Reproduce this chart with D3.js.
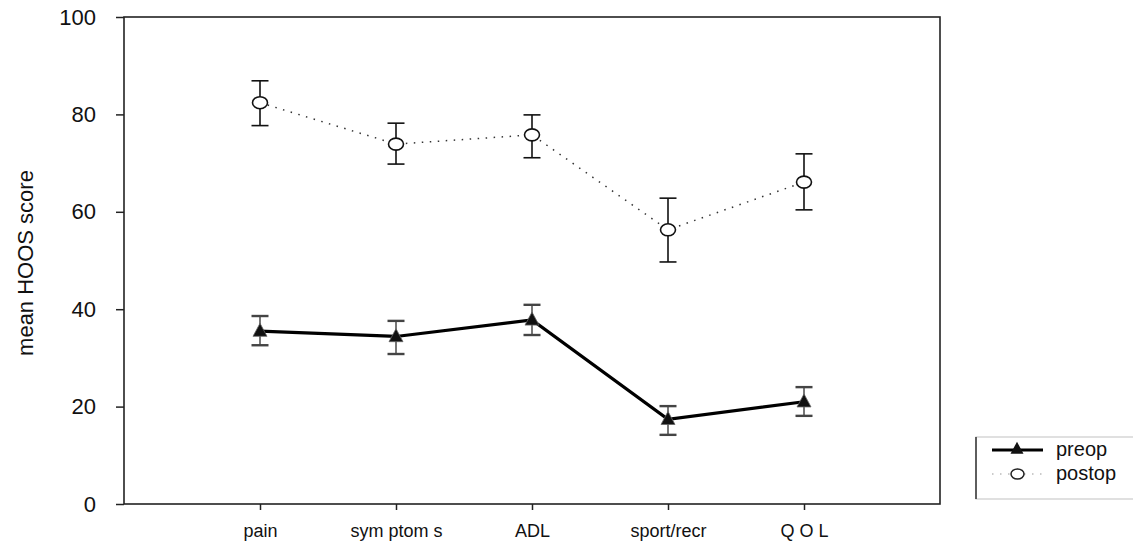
<!DOCTYPE html>
<html>
<head>
<meta charset="utf-8">
<script src="https://cdn.jsdelivr.net/npm/d3@7"></script>
<style>
  html, body { margin: 0; padding: 0; background: #fff; }
  svg { display: block; font-family: "Liberation Sans", Arial, sans-serif; }
</style>
</head>
<body>
<svg id="chart" width="1133" height="541"></svg>
<script>
// ---- data ----
const categories = ["pain", "sym ptom s", "ADL", "sport/recr", "Q O L"];
const preopMean  = [35.5, 34.4, 37.8, 17.4, 21.0];
const preopLow   = [32.6, 30.8, 34.7, 14.2, 18.1];
const preopHigh  = [38.6, 37.6, 40.9, 20.1, 24.0];
const postopMean = [82.4, 73.9, 75.8, 56.3, 66.1];
const postopLow  = [77.7, 69.8, 71.1, 49.7, 60.4];
const postopHigh = [86.9, 78.2, 79.9, 62.8, 71.9];
const yTicks = [0, 20, 40, 60, 80, 100];
const yTitle = "mean HOOS score";
const seriesNames = ["preop", "postop"];

(function () {
// ---- layout ----
const svg = d3.select("#chart");
const pLeft = 124, pRight = 940, pTop = 17, pBottom = 504;
const x = d3.scaleLinear().domain([-1, 5]).range([pLeft, pRight]);
const y = d3.scaleLinear().domain([0, 100]).range([pBottom, pTop]);

// frame
svg.append("rect")
  .attr("x", pLeft).attr("y", pTop)
  .attr("width", pRight - pLeft).attr("height", pBottom - pTop)
  .attr("fill", "none").attr("stroke", "#222").attr("stroke-width", 1.6);

// y axis
const yAxis = svg.append("g").attr("transform", `translate(${pLeft},0)`)
  .call(d3.axisLeft(y).tickValues(yTicks).tickSize(8).tickPadding(20));
yAxis.select(".domain").remove();
yAxis.selectAll("line").attr("stroke", "#222").attr("stroke-width", 1.5);
yAxis.selectAll("text").attr("font-size", 22).attr("fill", "#111")
  .attr("font-family", "Liberation Sans, Arial, sans-serif");

// x axis
const xAxis = svg.append("g").attr("transform", `translate(0,${pBottom})`)
  .call(d3.axisBottom(x).tickValues(d3.range(categories.length))
    .tickFormat(i => categories[i]).tickSize(6).tickPadding(14));
xAxis.select(".domain").remove();
xAxis.selectAll("line").attr("stroke", "#222").attr("stroke-width", 1.5);
xAxis.selectAll("text").attr("font-size", 18).attr("fill", "#111")
  .attr("font-family", "Liberation Sans, Arial, sans-serif");

// y title
svg.append("text")
  .attr("transform", `translate(33,263) rotate(-90)`)
  .attr("text-anchor", "middle")
  .attr("font-size", 22).attr("fill", "#111")
  .text(yTitle);

const idx = d3.range(categories.length);
const capW = 8.5;

// ---- postop series ----
svg.append("path")
  .datum(idx)
  .attr("fill", "none").attr("stroke", "#333").attr("stroke-width", 1.5)
  .attr("stroke-dasharray", "1.5,6.5")
  .attr("d", d3.line().x(i => x(i)).y(i => y(postopMean[i])));

const post = svg.append("g");
idx.forEach(i => {
  const g = post.append("g").attr("stroke", "#111").attr("stroke-width", 1.6);
  g.append("line").attr("x1", x(i)).attr("x2", x(i))
    .attr("y1", y(postopLow[i])).attr("y2", y(postopHigh[i]));
  g.append("line").attr("x1", x(i) - capW).attr("x2", x(i) + capW)
    .attr("y1", y(postopHigh[i])).attr("y2", y(postopHigh[i]));
  g.append("line").attr("x1", x(i) - capW).attr("x2", x(i) + capW)
    .attr("y1", y(postopLow[i])).attr("y2", y(postopLow[i]));
  g.append("ellipse").attr("cx", x(i)).attr("cy", y(postopMean[i]))
    .attr("rx", 7.5).attr("ry", 6).attr("fill", "#fff");
});

// ---- preop series ----
svg.append("path")
  .datum(idx)
  .attr("fill", "none").attr("stroke", "#000").attr("stroke-width", 3.2)
  .attr("d", d3.line().x(i => x(i)).y(i => y(preopMean[i])));

const tri = (cx, cy, w, h) =>
  `M${cx},${cy - h * 0.6}L${cx + w / 2},${cy + h * 0.4}L${cx - w / 2},${cy + h * 0.4}Z`;

const pre = svg.append("g");
idx.forEach(i => {
  const g = pre.append("g");
  g.append("line").attr("x1", x(i)).attr("x2", x(i))
    .attr("y1", y(preopLow[i])).attr("y2", y(preopHigh[i]))
    .attr("stroke", "#555").attr("stroke-width", 1.6);
  [preopHigh[i], preopLow[i]].forEach(v => {
    g.append("line").attr("x1", x(i) - capW).attr("x2", x(i) + capW)
      .attr("y1", y(v)).attr("y2", y(v))
      .attr("stroke", "#444").attr("stroke-width", 2.4);
  });
  g.append("path").attr("d", tri(x(i), y(preopMean[i]), 14, 13))
    .attr("fill", "#111").attr("stroke", "#666").attr("stroke-width", 0.8);
});

// ---- legend ----
const lg = svg.append("g");
lg.append("rect").attr("x", 976).attr("y", 437).attr("width", 170).attr("height", 62)
  .attr("fill", "#fff").attr("stroke", "#ccc").attr("stroke-width", 1.2);
lg.append("line").attr("x1", 976).attr("x2", 976).attr("y1", 437).attr("y2", 499)
  .attr("stroke", "#333").attr("stroke-width", 1.5);
// preop entry
lg.append("line").attr("x1", 992).attr("x2", 1043).attr("y1", 450).attr("y2", 450)
  .attr("stroke", "#000").attr("stroke-width", 3.2);
lg.append("path").attr("d", tri(1017, 449, 13, 12)).attr("fill", "#111");
lg.append("text").attr("x", 1056).attr("y", 456).attr("font-size", 20)
  .attr("fill", "#111").text(seriesNames[0]);
// postop entry
lg.append("line").attr("x1", 992).attr("x2", 1043).attr("y1", 474).attr("y2", 474)
  .attr("stroke", "#bbb").attr("stroke-width", 1.5).attr("stroke-dasharray", "1.5,6.5");
lg.append("ellipse").attr("cx", 1017.5).attr("cy", 474).attr("rx", 6.5).attr("ry", 5)
  .attr("fill", "#fff").attr("stroke", "#222").attr("stroke-width", 1.5);
lg.append("text").attr("x", 1056).attr("y", 480).attr("font-size", 20)
  .attr("fill", "#111").text(seriesNames[1]);
})();
</script>
</body>
</html>
